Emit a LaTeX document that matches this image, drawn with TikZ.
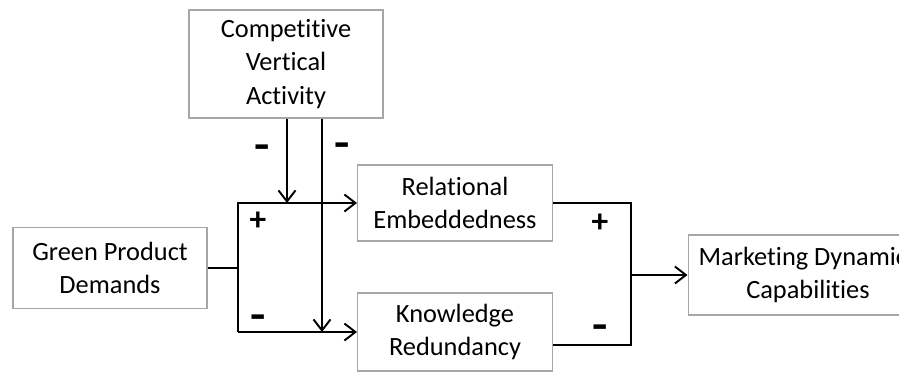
\documentclass[tikz,border=0pt]{standalone}
\usepackage{fontspec}
\setmainfont{Carlito}[Ligatures=NoCommon]
\usetikzlibrary{arrows.meta,positioning}

\begin{document}
\begin{tikzpicture}[x=0.02cm, y=-0.02cm, >={Straight Barb[length=2.2mm,width=3.4mm]}, line width=1.1pt,
  box/.style={draw=gray!70, line width=0.6pt, align=center, inner sep=0pt, font=\fontsize{15}{19}\selectfont},
  sign/.style={font=\bfseries\fontsize{19}{19}\selectfont},
  minus/.style={sign, xscale=1.5, yscale=1.3, transform shape}]
\useasboundingbox (0,0) rectangle (899,373);
\node[box, minimum width=3.88cm, minimum height=2.16cm] (CVA) at (286,64) {Competitive\\Vertical\\Activity};
\node[box, minimum width=3.88cm, minimum height=1.62cm] (GPD) at (110,268) {Green Product\\Demands};
\node[box, minimum width=3.9cm, minimum height=1.52cm] (REL) at (455,203) {Relational\\Embeddedness};
\node[box, minimum width=3.9cm, minimum height=1.56cm] (KR) at (455,332) {Knowledge\\Redundancy};
\node[box, minimum width=4.8cm, minimum height=1.6cm] (MDC) at (808,275) {Marketing Dynamics\\Capabilities};
\coordinate (splitT) at (238,203);
\coordinate (splitB) at (238,332);
\coordinate (tapA) at (287,203);
\coordinate (tapB) at (322,332);
\coordinate (joinT) at (631,203);
\coordinate (joinB) at (631,345);
% left fork
\draw (GPD.east) -- (GPD.east -| splitT);
\draw[->] (splitB) -- (splitT) -- (REL.west);
\draw[->] (splitB) -- (KR.west);
% moderation
\draw[->] (CVA.south -| tapA) -- (tapA);
\draw[->] (CVA.south -| tapB) -- (tapB);
% right join
\draw (REL.east) -- (joinT) -- (joinB) -- (joinB -| KR.east);
\draw[->] (MDC.west -| joinT) -- (MDC.west);
% signs
\node[minus] (s1) at (262,152) {-};
\node[minus] (s2) at (342,150) {-};
\node[sign] (s3) at (258,221) {+};
\node[minus] (s4) at (258,322) {-};
\node[sign] (s5) at (600,223) {+};
\node[minus] (s6) at (600,332) {-};
\end{tikzpicture}
\end{document}
